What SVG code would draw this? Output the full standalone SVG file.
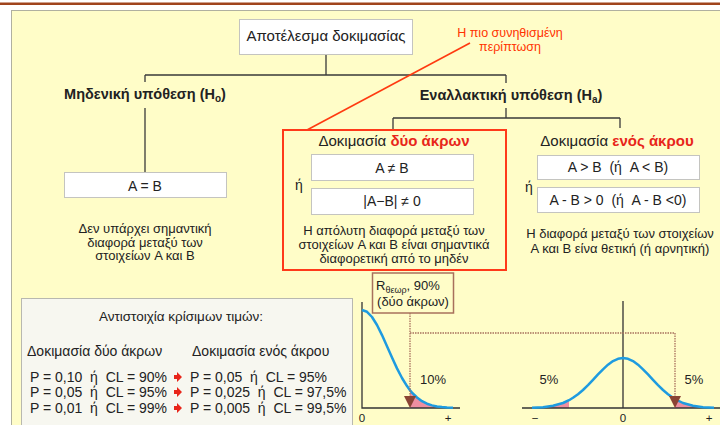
<svg xmlns="http://www.w3.org/2000/svg" width="720" height="425" viewBox="0 0 720 425">
<style>
.t{font-family:"Liberation Sans",Arial,sans-serif;fill:#222}
.c{text-anchor:middle}
.b{font-weight:bold}
.red{fill:#E8251A;font-weight:bold}
.box{fill:#FFFFFF;stroke:#C4C4C0;stroke-width:1}
.ln{stroke:#3A3A3A;stroke-width:1.3;fill:none}
.ax{stroke:#333;stroke-width:1.3;fill:none}
.crv{stroke:#1E9BE0;stroke-width:2.5;fill:none;stroke-linejoin:round}
.pink{fill:#EE8FA0}
.dot{stroke:#A8705C;stroke-width:1.3;stroke-dasharray:1.5 1;fill:none}
.tri{fill:#8A4434}
</style>
<defs>
<path id="rarr" d="M0,-2 L3,-2 L3,-5 L8,0 L3,5 L3,2 L0,2 Z" fill="#E8251A"/>
</defs>
<rect x="0" y="0" width="720" height="425" fill="#FFFFFF"/>
<rect x="0" y="2.5" width="720" height="2.5" fill="#A0441C"/>
<rect x="11.5" y="10.5" width="720" height="420" fill="#FFFDC8" stroke="#B0B0A0"/>

<g id="connectors">
<path class="ln" d="M326,54 V75 M145,75 H506 M145,75 V82 M506,75 V83"/>
<path class="ln" d="M145,108 V172"/>
<path class="ln" d="M506,108 V118 M393,118 H620 M393,118 V130 M620,118 V128"/>
<path d="M470,43 L307,130" stroke="#FF3A10" stroke-width="1.6" fill="none"/>
</g>

<g id="result">
<rect class="box" x="239.5" y="19.5" width="173" height="35"/>
<text class="t c" x="326" y="41" font-size="15">Αποτέλεσμα δοκιμασίας</text>
</g>

<g id="note">
<text class="t c" x="510" y="37" font-size="12.5" style="fill:#FF3300">Η πιο συνηθισμένη</text>
<text class="t c" x="510" y="51" font-size="12.5" style="fill:#FF3300">περίπτωση</text>
</g>

<g id="h0">
<text class="t c b" x="145" y="99" font-size="14.5">Μηδενική υπόθεση (H<tspan font-size="10" dy="3">o</tspan><tspan dy="-3">)</tspan></text>
<rect class="box" x="64.5" y="172.5" width="162" height="25"/>
<text class="t c" x="145" y="191" font-size="14">A = B</text>
<text class="t c" x="145" y="233" font-size="13">Δεν υπάρχει σημαντική</text>
<text class="t c" x="145" y="246.5" font-size="13">διαφορά μεταξύ των</text>
<text class="t c" x="145" y="260" font-size="13">στοιχείων A και B</text>
</g>

<g id="ha">
<text class="t c b" x="511" y="100" font-size="14.5">Εναλλακτική υπόθεση (H<tspan font-size="10" dy="3">a</tspan><tspan dy="-3">)</tspan></text>
</g>

<g id="two-tailed">
<rect x="283" y="130" width="223" height="140" fill="none" stroke="#FF3A1A" stroke-width="2"/>
<text class="t c" x="394" y="146" font-size="15">Δοκιμασία <tspan class="red">δύο άκρων</tspan></text>
<rect class="box" x="311.5" y="154.5" width="162" height="26"/>
<text class="t c" x="392" y="173" font-size="14">A ≠ B</text>
<rect class="box" x="311.5" y="188.5" width="162" height="26"/>
<text class="t c" x="392" y="206" font-size="14">|A−B| ≠ 0</text>
<text class="t" x="295" y="190" font-size="14">ή</text>
<text class="t c" x="394" y="235" font-size="13">Η απόλυτη διαφορά μεταξύ των</text>
<text class="t c" x="394" y="249" font-size="13">στοιχείων A και B είναι σημαντικά</text>
<text class="t c" x="394" y="263" font-size="13">διαφορετική από το μηδέν</text>
</g>

<g id="one-tailed">
<text class="t c" x="617" y="146" font-size="15">Δοκιμασία <tspan class="red">ενός άκρου</tspan></text>
<rect class="box" x="537.5" y="155.5" width="162" height="24"/>
<text class="t c" x="618" y="172" font-size="14" xml:space="preserve">A &gt; B  (ή  A &lt; B)</text>
<rect class="box" x="537.5" y="187.5" width="162" height="25"/>
<text class="t c" x="618" y="205" font-size="14" xml:space="preserve">A - B &gt; 0  (ή  A - B &lt;0)</text>
<text class="t" x="525" y="192" font-size="14">ή</text>
<text class="t c" x="620" y="238" font-size="13">Η διαφορά μεταξύ των στοιχείων</text>
<text class="t c" x="620" y="253" font-size="13">A και B είνα θετική (ή αρνητική)</text>
</g>

<g id="table">
<rect x="21.5" y="298.5" width="331" height="140" fill="#F7F7F0" stroke="#B8B8B0"/>
<text class="t c" x="181" y="321" font-size="13.5">Αντιστοιχία κρίσιμων τιμών:</text>
<text class="t" x="27" y="356" font-size="14">Δοκιμασία δύο άκρων</text>
<text class="t" x="192" y="356" font-size="14">Δοκιμασία ενός άκρου</text>
<text class="t" x="30" y="382" font-size="14" xml:space="preserve">P = 0,10  ή  CL = 90%</text>
<text class="t" x="30" y="397" font-size="14" xml:space="preserve">P = 0,05  ή  CL = 95%</text>
<text class="t" x="30" y="413" font-size="14" xml:space="preserve">P = 0,01  ή  CL = 99%</text>
<use href="#rarr" x="174" y="377"/>
<use href="#rarr" x="174" y="392"/>
<use href="#rarr" x="174" y="408"/>
<text class="t" x="190" y="382" font-size="14" xml:space="preserve">P = 0,05  ή  CL = 95%</text>
<text class="t" x="190" y="397" font-size="14" xml:space="preserve">P = 0,025  ή  CL = 97,5%</text>
<text class="t" x="190" y="413" font-size="14" xml:space="preserve">P = 0,005  ή  CL = 99,5%</text>
</g>

<g id="graph-left">
<path class="pink" d="M410,408 L410,390.2 L412,392.6 L417,397.5 L422,401.2 L427,403.7 L432,405.4 L437,406.5 L442,407.1 L447,407.5 L453,407.8 Z"/>
<path class="ax" d="M362,302 V408 H460"/>
<path class="crv" d="M362,310 L367,311.8 L372,317 L377,325 L382,335.1 L387,346.3 L392,357.6 L397,368.4 L402,378 L407,386.1 L410,390.2 L412,392.6 L417,397.5 L422,401.2 L427,403.7 L432,405.4 L437,406.5 L442,407.1 L447,407.5 L453,407.8"/>
<text class="t" x="420" y="384" font-size="13">10%</text>
<text class="t c" x="362" y="422" font-size="11.5">0</text>
<text class="t c" x="448" y="422" font-size="11.5">+</text>
</g>

<g id="graph-right">
<path class="pink" d="M532,408 L532,407.7 L543,407.2 L553,405.8 L563,403 L569,400.2 L569,408 Z"/>
<path class="pink" d="M675,408 L675,399.1 L683,403 L693,405.8 L703,407.2 L714,407.7 L714,408 Z"/>
<path class="ax" d="M522,408 H720 M623,301 V408"/>
<path class="crv" d="M532,407.7 L543,407.2 L553,405.8 L563,403 L569,400.2 L573,397.8 L578,394.2 L583,390 L588,385.1 L593,379.8 L598,374.4 L603,369.3 L608,364.7 L613,361.1 L618,358.8 L623,358 L628,358.8 L633,361.1 L638,364.7 L643,369.3 L648,374.4 L653,379.8 L658,385.1 L663,390 L668,394.2 L673,397.8 L675,399.1 L683,403 L693,405.8 L703,407.2 L714,407.7"/>
<text class="t c" x="549" y="384" font-size="13">5%</text>
<text class="t c" x="694" y="384" font-size="13">5%</text>
<text class="t c" x="535" y="422" font-size="11.5">−</text>
<text class="t c" x="623" y="422" font-size="11.5">0</text>
<text class="t c" x="709" y="422" font-size="11.5">+</text>
</g>

<g id="critical">
<path class="dot" d="M410,313 V398 M410,333 H675 V398"/>
<path class="tri" d="M404,396 L416,396 L410,408 Z"/>
<path class="tri" d="M669,396 L681,396 L675,408 Z"/>
<rect x="372.5" y="273" width="81" height="40" fill="#FFFDC8" stroke="#A8705C" stroke-width="1.5"/>
<text class="t" x="376" y="290" font-size="13">R<tspan font-size="9" dy="3">θεωρ</tspan><tspan dy="-3">, 90%</tspan></text>
<text class="t c" x="413" y="306" font-size="13">(δύο άκρων)</text>
</g>
</svg>
